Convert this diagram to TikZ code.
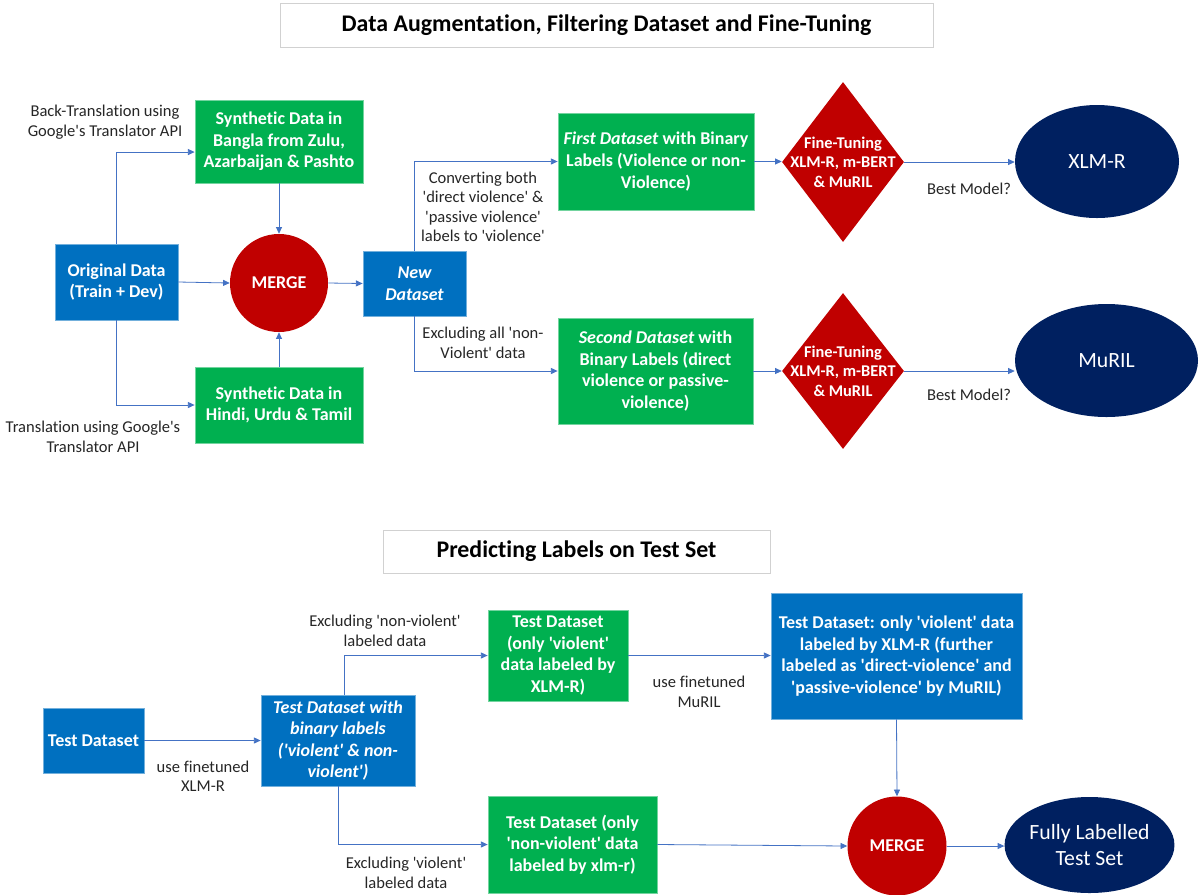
\documentclass[tikz,border=0pt]{standalone}
\usepackage{fontspec}
\setmainfont{Carlito}[Ligatures=NoCommon]
\usetikzlibrary{shapes.geometric,arrows.meta,calc}
\definecolor{cblue}{HTML}{0070C0}
\definecolor{cgreen}{HTML}{00B050}
\definecolor{cred}{HTML}{C00000}
\definecolor{cnavy}{HTML}{002060}
\definecolor{carrow}{HTML}{4472C4}
\definecolor{ctext}{HTML}{262626}
\newcommand{\q}{\textquotesingle}
\begin{document}
\begin{tikzpicture}[x=0.75pt,y=-0.75pt,
  bluebox/.style={rectangle, fill=cblue, draw=cblue!55!white, line width=0.6pt, text=white, font=\bfseries\fontsize{13.5}{16.2}\selectfont, align=center, inner sep=0pt},
  greenbox/.style={rectangle, fill=cgreen, draw=cgreen!55!white, line width=0.6pt, text=white, font=\bfseries\fontsize{13.5}{16.2}\selectfont, align=center, inner sep=0pt},
  titlebox/.style={rectangle, draw=black!18, line width=0.6pt, fill=white, text=black, font=\bfseries\fontsize{17.9}{21}\selectfont, inner sep=0pt},
  mergecirc/.style={circle, fill=cred, draw=none, text=white, font=\bfseries\fontsize{13.5}{16}\selectfont, inner sep=0pt},
  diam/.style={diamond, fill=cred, draw=none, inner sep=0pt},
  diamtext/.style={text=white, font=\bfseries\fontsize{12.3}{14.6}\selectfont, align=center, inner sep=0pt},
  oval/.style={ellipse, fill=cnavy, draw=none, text=white, font=\fontsize{16.3}{18.8}\selectfont, align=center, inner sep=0pt},
  lbl/.style={font=\fontsize{12.4}{14.6}\selectfont, text=ctext, align=center, inner sep=0pt},
  conn/.style={draw=carrow, line width=0.6pt, -{Triangle[width=4.5pt,length=5pt]}}
]
\useasboundingbox (0,0) rectangle (1199,894);
\fill[white] (0,0) rectangle (1199,894);

% ---------- Top section ----------
\node[titlebox, minimum width=489.75pt, minimum height=33pt] (t1) at (606.5,25) {Data Augmentation, Filtering Dataset and Fine-Tuning};

\node[greenbox, minimum width=126pt, minimum height=62.25pt] (syn1) at (279,141.5) {Synthetic Data in\\Bangla from Zulu,\\Azarbaijan \& Pashto};
\node[bluebox, minimum width=92.25pt, minimum height=57pt] (orig) at (116.5,282) {Original Data\\(Train + Dev)};
\node[mergecirc, minimum size=73.5pt] (m1) at (279,283) {MERGE};
\node[greenbox, minimum width=126pt, minimum height=57pt] (syn2) at (279,405) {Synthetic Data in\\Hindi, Urdu \& Tamil};
\node[bluebox, minimum width=77.25pt, minimum height=48.75pt] (new) at (414.5,283.5) {\itshape New\\\itshape Dataset};
\node[greenbox, minimum width=147pt, minimum height=72.75pt] (first) at (656,161.5) {\textit{First Dataset} with Binary\\Labels (Violence or non-\\Violence)};
\node[greenbox, minimum width=146.25pt, minimum height=79.5pt] (second) at (655.5,371) {\textit{Second Dataset} with\\Binary Labels (direct\\violence or passive-\\violence)};
\node[diam, minimum width=91.5pt, minimum height=120pt] (d1) at (843,162) {};
\node[diamtext] (d1t) at (d1.center) {Fine-Tuning\\XLM-R, m-BERT\\\& MuRIL};
\node[diam, minimum width=91.5pt, minimum height=117pt] (d2) at (843,371) {};
\node[diamtext] (d2t) at (d2.center) {Fine-Tuning\\XLM-R, m-BERT\\\& MuRIL};
\node[oval, minimum width=123pt, minimum height=84.75pt] (xlmr) at (1097,161.5) {XLM-R};
\node[oval, minimum width=137.25pt, minimum height=84.75pt] (muril) at (1106.5,360.5) {MuRIL};

\draw[conn] (orig.north) |- ([yshift=-7.9pt]syn1.west);
\draw[conn] (orig.south) |- (syn2.west);
\draw[conn] (orig.east) -- (m1.west);
\draw[conn] (syn1.south) -- (m1.north);
\draw[conn] (syn2.north) -- (m1.south);
\draw[conn] (m1.east) -- (new.west);
\draw[conn] (new.north) |- (first.west);
\draw[conn] (new.south) |- (second.west);
\draw[conn] (first.east) -- (first.east -| d1.west);
\draw[conn] (second.east) -- (second.east -| d2.west);
\draw[conn] (d1.east) -- (d1.east -| xlmr.west);
\draw[conn] (d2.east) -- (d2.east -| muril.west);

\node[lbl] (l1) at (105,122) {Back-Translation using\\Google\q s Translator API};
\node[lbl] (l2) at (93,437) {Translation using Google\q s\\Translator API};
\node[lbl] (l3) at (483,207) {Converting both\\\q direct violence\q{} \&\\\q passive violence\q\\labels to \q violence\q};
\node[lbl] (l4) at (483,343) {Excluding all \q non-\\Violent\q{} data};
\node[lbl] (l5) at (969,189) {Best Model?};
\node[lbl] (l6) at (969,395) {Best Model?};

% ---------- Bottom section ----------
\node[titlebox, minimum width=290.25pt, minimum height=32.25pt] (t2) at (576.5,551.5) {Predicting Labels on Test Set};

\node[bluebox, minimum width=75.75pt, minimum height=48.75pt] (test) at (93.5,740.5) {Test Dataset};
\node[bluebox, minimum width=115.5pt, minimum height=68.25pt] (bin) at (338,740.5) {\itshape Test Dataset with\\\itshape binary labels\\\itshape (\q violent\q{} \& non-\\\itshape violent\q)};
\node[greenbox, minimum width=105pt, minimum height=68.25pt] (g1) at (558,655.5) {Test Dataset\\(only \q violent\q\\data labeled by\\XLM-R)};
\node[greenbox, minimum width=126.75pt, minimum height=72.75pt] (g2) at (572.5,844.5) {Test Dataset (only\\\q non-violent\q{} data\\labeled by xlm-r)};
\node[bluebox, minimum width=188.25pt, minimum height=94.5pt] (b2) at (896.5,656) {Test Dataset: only \q violent\q{} data\\labeled by XLM-R (further\\labeled as \q direct-violence\q{} and\\\q passive-violence\q{} by MuRIL)};
\node[mergecirc, minimum size=74.25pt] (m2) at (897,846) {MERGE};
\node[oval, minimum width=110.25pt, minimum height=72pt] (full) at (1089.5,845) {Fully Labelled\\Test Set};

\draw[conn] (test.east) -- (bin.west);
\draw[conn] ([xshift=4.5pt]bin.north) |- (g1.west);
\draw[conn] (bin.south) |- (g2.west);
\draw[conn] (g1.east) -- (g1.east -| b2.west);
\draw[conn] (b2.south) -- (m2.north);
\draw[conn] (g2.east) -- (m2.west);
\draw[conn] (m2.east) -- (m2.east -| full.west);

\node[lbl] (l7) at (385,631) {Excluding \q non-violent\q\\labeled data};
\node[lbl] (l8) at (203,776) {use finetuned\\XLM-R};
\node[lbl] (l9) at (406,873) {Excluding \q violent\q\\labeled data};
\node[lbl] (l10) at (699,692) {use finetuned\\MuRIL};
\end{tikzpicture}
\end{document}
